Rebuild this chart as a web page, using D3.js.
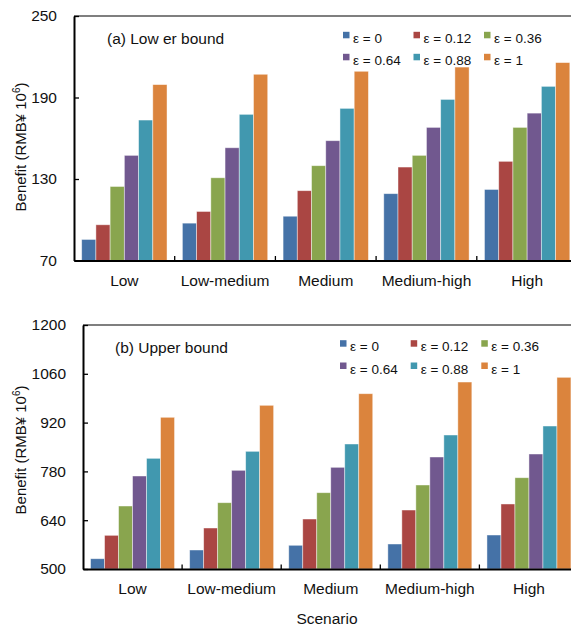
<!DOCTYPE html>
<html>
<head>
<meta charset="utf-8">
<script src="https://cdn.jsdelivr.net/npm/d3@7"></script>
<style>
  html, body { margin: 0; padding: 0; background: #fff; }
  svg { display: block; }
  text { font-family: "Liberation Sans", Arial, sans-serif; fill: #111; }
</style>
</head>
<body>
<svg id="chart" width="571" height="630"></svg>
<script>
// ---------- DATA ----------
const categories = ["Low", "Low-medium", "Medium", "Medium-high", "High"];
const seriesLabels = ["ε = 0", "ε = 0.12", "ε = 0.36", "ε = 0.64", "ε = 0.88", "ε = 1"];
const seriesColors = ["#4572A7", "#AA4643", "#89A54E", "#71588F", "#4198AF", "#DB843D"];

// rows = series (ε), columns = categories
const lowerBound = [
  [85.5, 97.5, 102.6, 119.2, 122.3],
  [96.3, 106.1, 121.4, 138.8, 143.0],
  [124.5, 130.9, 139.8, 147.4, 168.0],
  [147.4, 153.0, 158.2, 168.0, 178.5],
  [173.4, 177.6, 182.0, 188.6, 198.2],
  [199.5, 207.1, 209.3, 212.4, 215.7]
];
const upperBound = [
  [529.5, 554.5, 568.0, 571.7, 597.5],
  [596.6, 617.6, 643.4, 669.2, 686.5],
  [680.7, 690.2, 718.9, 741.0, 761.9],
  [766.8, 783.1, 791.7, 821.3, 829.9],
  [817.5, 837.6, 858.6, 884.4, 910.2],
  [935.2, 969.6, 1002.9, 1036.4, 1049.9]
];
const lowerTicks = [70, 130, 190, 250];
const upperTicks = [500, 640, 780, 920, 1060, 1200];
const lowerTitle = "(a) Low er bound";
const upperTitle = "(b) Upper bound";
const xTitle = "Scenario";

// ---------- DRAW ----------
const svg = d3.select("#chart");
const FONT = '"Liberation Sans", Arial, sans-serif';

function drawPanel(cfg) {
  const g = svg.append("g");
  const x = d3.scaleBand().domain(categories).range([cfg.left, cfg.right]).padding(0);
  const xs = d3.scaleBand().domain(d3.range(seriesLabels.length))
    .range([0, x.bandwidth()]).paddingInner(0).paddingOuter(0.54);
  const y = d3.scaleLinear().domain([cfg.ticks[0], cfg.ticks[cfg.ticks.length - 1]])
    .range([cfg.bottom, cfg.top]);

  // frame top & right (gray)
  g.append("line").attr("x1", cfg.left).attr("x2", cfg.right)
    .attr("y1", cfg.top).attr("y2", cfg.top)
    .attr("stroke", "#555").attr("stroke-width", 1.3);
  g.append("line").attr("x1", cfg.right).attr("x2", cfg.right)
    .attr("y1", cfg.top).attr("y2", cfg.bottom)
    .attr("stroke", "#555").attr("stroke-width", 1.3);

  // bars
  cfg.data.forEach((vals, si) => {
    g.append("g").selectAll("rect").data(vals).join("rect")
      .attr("x", (d, ci) => x(categories[ci]) + xs(si))
      .attr("width", xs.bandwidth())
      .attr("y", d => y(d))
      .attr("height", d => cfg.bottom - y(d))
      .attr("fill", seriesColors[si])
      .attr("stroke", "rgba(255,255,255,0.55)")
      .attr("stroke-width", 0.8);
  });

  // y axis
  const yAxis = d3.axisLeft(y).tickValues(cfg.ticks).tickFormat(d3.format("d"))
    .tickSizeInner(-5).tickSizeOuter(0).tickPadding(17);
  const ya = g.append("g").attr("transform", `translate(${cfg.left},0)`).call(yAxis);
  ya.select(".domain").attr("stroke", "#000").attr("stroke-width", 2);
  ya.selectAll(".tick line").attr("stroke", "#000").attr("stroke-width", 1.3);
  ya.selectAll(".tick text").attr("font-size", 15.5).attr("fill", "#111").style("font-family", FONT);

  // x axis: labels
  const xAxis = d3.axisBottom(x).tickSize(0).tickPadding(14);
  const xa = g.append("g").attr("transform", `translate(0,${cfg.bottom})`).call(xAxis);
  xa.select(".domain").attr("stroke", "#000").attr("stroke-width", 2);
  xa.selectAll(".tick text").attr("font-size", 15.5).attr("fill", "#111").style("font-family", FONT);

  // boundary ticks between categories (inward)
  g.append("g").selectAll("line").data(categories.slice(1)).join("line")
    .attr("x1", d => x(d)).attr("x2", d => x(d))
    .attr("y1", cfg.bottom).attr("y2", cfg.bottom - 4.5)
    .attr("stroke", "#000").attr("stroke-width", 1.3);

  // title
  g.append("text").attr("x", cfg.titleX).attr("y", cfg.titleY)
    .attr("font-size", 15.5).text(cfg.title);

  // y label
  const yl = g.append("text")
    .attr("transform", `translate(${cfg.ylabelX},${cfg.ylabelY}) rotate(-90)`)
    .attr("text-anchor", "middle").attr("font-size", 15);
  yl.append("tspan").text("Benefit (RMB¥ 10");
  yl.append("tspan").attr("font-size", 10).attr("dy", -6).text("6");
  yl.append("tspan").attr("dy", 6).text(")");

  // legend
  seriesLabels.forEach((lab, i) => {
    const col = i % 3, row = Math.floor(i / 3);
    const lx = cfg.legendX[col], ly = cfg.legendY[row];
    g.append("rect").attr("x", lx).attr("y", ly - 6.5).attr("width", 6.5).attr("height", 6.5)
      .attr("fill", seriesColors[i]);
    g.append("text").attr("x", lx + 10).attr("y", ly).attr("dy", "0.35em")
      .attr("font-size", 13.5).text(lab);
  });
}

drawPanel({
  data: lowerBound, ticks: lowerTicks, title: lowerTitle,
  left: 74, right: 577.5, top: 16, bottom: 260.5,
  titleX: 107, titleY: 44,
  ylabelX: 26, ylabelY: 147,
  legendX: [343, 413.5, 484], legendY: [38.3, 60.3]
});

drawPanel({
  data: upperBound, ticks: upperTicks, title: upperTitle,
  left: 83, right: 578.5, top: 325, bottom: 569,
  titleX: 115, titleY: 353,
  ylabelX: 26, ylabelY: 450,
  legendX: [340, 410.7, 481.3], legendY: [346.7, 369]
});

svg.append("text").attr("x", 327).attr("y", 624).attr("text-anchor", "middle")
  .attr("font-size", 15.5).text(xTitle);
</script>
</body>
</html>
